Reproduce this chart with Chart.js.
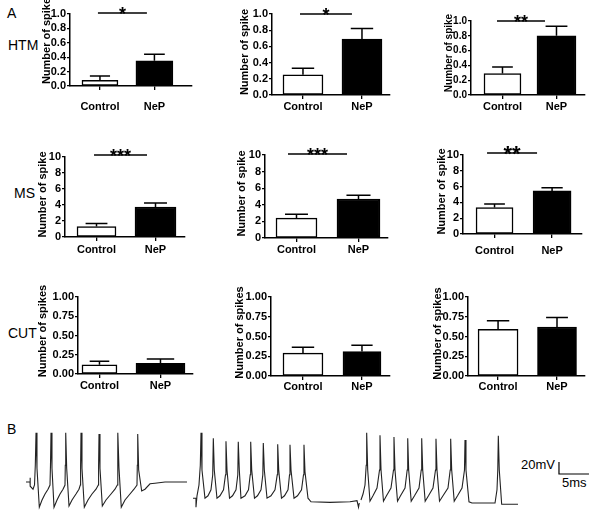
<!DOCTYPE html>
<html><head><meta charset="utf-8">
<script src="https://cdn.jsdelivr.net/npm/chart.js@4.4.1/dist/chart.umd.min.js"></script>
<style>
html,body{margin:0;padding:0;background:#fff;}
body{width:600px;height:519px;position:relative;overflow:hidden;font-family:"Liberation Sans",Arial,sans-serif;}
.box{position:absolute;}
.lbl{position:absolute;font-size:14px;color:#000;line-height:1;white-space:nowrap;}
.sb{position:absolute;font-size:13px;color:#000;line-height:1;white-space:nowrap;}
</style></head><body>
<div class="lbl" style="left:7px;top:6px">A</div>
<div class="lbl" style="left:7px;top:422px">B</div>
<div class="lbl" id="row0" style="left:8px;top:38px"></div>
<div class="lbl" id="row1" style="left:14px;top:186px"></div>
<div class="lbl" id="row2" style="left:8px;top:326px"></div>
<div class="sb" id="sbV" style="left:521px;top:458px"></div>
<div class="sb" id="sbH" style="left:562px;top:476px"></div>
<script>
// ---------- DATA ----------
const categories = ['Control', 'NeP'];
const rowNames = ['HTM', 'MS', 'CUT'];
const yTitles = ['Number of spike', 'Number of spike', 'Number of spikes'];

const htmMean = [[0.08, 0.35], [0.25, 0.69], [0.29, 0.80]];
const htmSem  = [[0.06, 0.09], [0.08, 0.13], [0.09, 0.13]];
const msMean  = [[1.3, 3.75], [2.4, 4.7], [3.35, 5.45]];
const msSem   = [[0.4, 0.5], [0.45, 0.45], [0.45, 0.4]];
const cutMean = [[0.12, 0.14], [0.29, 0.31], [0.59, 0.62]];
const cutSem  = [[0.045, 0.055], [0.075, 0.08], [0.11, 0.12]];

const htmSig = ['*', '*', '**'];
const msSig  = ['***', '***', '**'];
const cutSig = [null, null, null];

const htmTicks = [0, 0.2, 0.4, 0.6, 0.8, 1.0];
const msTicks  = [0, 2, 4, 6, 8, 10];
const cutTicks = [0, 0.25, 0.5, 0.75, 1.0];
const tickDecimals = [1, 0, 2];

// membrane potential traces: [time ms, voltage mV]
const trace1 = [[1.0,-20],[1.67,-20],[1.67,-13],[1.72,-27],[2.17,-32],[2.42,-25],[2.55,8],[2.67,62],[2.83,3],[3.22,-62],[3.67,-50],[4.17,-40],[4.67,-32],[5.0,-25],[5.08,8],[5.17,62],[5.33,3],[5.67,-62],[6.17,-50],[6.67,-40],[7.17,-32],[7.5,-25],[7.55,8],[7.62,62],[7.78,3],[8.17,-60],[8.67,-50],[9.33,-40],[9.83,-32],[10.05,-25],[10.1,8],[10.17,62],[10.33,3],[10.72,-62],[11.33,-50],[12.0,-40],[12.67,-32],[13.05,-25],[13.1,8],[13.17,60],[13.33,3],[13.72,-60],[14.33,-50],[15.17,-40],[15.83,-32],[16.22,-25],[16.27,8],[16.33,62],[16.5,3],[16.88,-62],[17.5,-50],[18.33,-40],[19.0,-32],[19.5,-25],[19.55,8],[19.62,60],[19.78,0],[20.28,-35],[20.83,-32],[21.67,-23],[22.5,-22],[24.17,-20],[27.83,-20]];
const trace2 = [[28.83,-47],[29.33,-47],[29.33,-62],[29.5,-43],[29.83,-25],[30.05,8],[30.17,62],[30.33,0],[30.83,-47],[31.33,-43],[31.83,-33],[32.12,-8],[32.22,53],[32.38,0],[32.83,-47],[33.33,-43],[33.92,-33],[34.25,-8],[34.33,48],[34.5,0],[34.92,-47],[35.42,-43],[36.0,-33],[36.3,-8],[36.38,47],[36.55,0],[36.83,-47],[37.5,-43],[38.08,-33],[38.37,-8],[38.45,47],[38.62,0],[39.08,-47],[39.58,-43],[40.17,-33],[40.47,-8],[40.55,45],[40.72,0],[41.17,-47],[41.83,-43],[42.5,-33],[42.87,-8],[42.95,43],[43.12,0],[43.58,-47],[44.08,-43],[44.67,-33],[44.92,-8],[45.0,42],[45.17,0],[45.67,-47],[46.25,-43],[46.92,-33],[47.25,-8],[47.33,42],[47.5,-3],[48.0,-47],[48.5,-53],[51.67,-54],[55.0,-53],[56.17,-51],[56.42,-62],[56.55,-55]];
const trace3 = [[56.83,-50],[57.17,-40],[57.5,-25],[57.7,8],[57.78,62],[57.95,0],[58.33,-52],[58.83,-43],[59.5,-30],[59.92,0],[60.0,58],[60.17,0],[60.58,-52],[61.08,-43],[61.83,-30],[62.25,0],[62.33,55],[62.5,0],[62.92,-52],[63.42,-43],[64.17,-30],[64.53,0],[64.62,53],[64.78,0],[65.2,-52],[65.75,-43],[66.5,-30],[66.87,0],[66.95,53],[67.12,0],[67.53,-52],[68.08,-43],[68.83,-30],[69.25,0],[69.33,52],[69.5,0],[69.92,-52],[70.5,-43],[71.33,-30],[71.7,0],[71.78,52],[71.95,0],[72.37,-52],[72.92,-43],[73.67,-30],[74.08,0],[74.17,50],[74.33,0],[74.83,-53],[75.33,-55],[79.17,-55],[79.5,-33],[79.63,0],[79.72,57],[79.88,0],[80.28,-57],[83.0,-57]];
const scaleBarMV = 20;
const scaleBarMS = 5;

// ---------- LAYOUT (pixels / styles) ----------
const layout = [
 {L:70, R:192,T:14, B:86,  xr:[0.45,2.69],  w:[36,37], tx:47, ty:41,    pad:10.5, sig:[0.963,1.862,1.014], fs:18, kfs:11, tfs:11},
 {L:272,R:390,T:14, B:95,  xr:[0.475,2.475],w:[40,40], tx:245,ty:52,    pad:1.5,  sig:[0.949,1.83,1.0],    fs:18, kfs:11, tfs:11},
 {L:471,R:585,T:21, B:95,  xr:[0.417,2.528],w:[37,39], tx:449.5,ty:53,  pad:1.5,  sig:[0.898,1.787,1.0],   fs:18, kfs:10, tfs:10},
 {L:65, R:185,T:157,B:237, xr:[0.466,2.5],  w:[39,41], tx:43, ty:194.5, pad:2,    sig:[0.958,1.856,10.25], fs:18, kfs:11, tfs:11},
 {L:265,R:388,T:155,B:238, xr:[0.492,2.476],w:[41,43], tx:242,ty:193.5, pad:1,    sig:[0.863,1.815,10.12], fs:18, kfs:11, tfs:11},
 {L:463,R:582,T:155,B:234, xr:[0.452,2.52], w:[37,38], tx:442,ty:191.5, pad:6.5,  sig:[0.87,1.739,10.25],  fs:22, kfs:11, tfs:11},
 {L:78, R:193,T:297,B:374, xr:[0.648,2.533],w:[35,49], tx:43, ty:331,   pad:1.5, kfs:11, tfs:11},
 {L:271,R:390,T:297,B:376, xr:[0.458,2.475],w:[40,38], tx:240,ty:332.5, pad:0,   kfs:11, tfs:11},
 {L:468,R:585,T:297,B:376, xr:[0.49,2.475], w:[40,39], tx:438,ty:333.5, pad:0,   kfs:11, tfs:11}
];

const FONT = '"Liberation Sans", Arial, sans-serif';
Chart.defaults.font.family = FONT;
Chart.defaults.color = '#000';

document.getElementById('row0').textContent = rowNames[0];
document.getElementById('row1').textContent = rowNames[1];
document.getElementById('row2').textContent = rowNames[2];
document.getElementById('sbV').textContent = scaleBarMV + 'mV';
document.getElementById('sbH').textContent = scaleBarMS + 'ms';

const meanRows = [htmMean, msMean, cutMean];
const semRows = [htmSem, msSem, cutSem];
const sigRows = [htmSig, msSig, cutSig];
const tickRows = [htmTicks, msTicks, cutTicks];
const yMaxRows = [1, 10, 1];

const PAD_L = 60, PAD_T = 25, PAD_R = 15, PAD_B = 40, YW = 35;

function makeCanvas(left, top, w, h) {
  const div = document.createElement('div');
  div.className = 'box';
  div.style.left = left + 'px'; div.style.top = top + 'px';
  div.style.width = w + 'px'; div.style.height = h + 'px';
  const cv = document.createElement('canvas');
  cv.width = w; cv.height = h;
  cv.style.width = w + 'px'; cv.style.height = h + 'px';
  div.appendChild(cv);
  document.body.appendChild(div);
  return cv;
}

function makeBar(i) {
  const r = Math.floor(i / 3), c = i % 3;
  const lay = layout[i];
  const means = meanRows[r][c], sems = semRows[r][c], sig = sigRows[r][c];
  const ticksArr = tickRows[r], dec = tickDecimals[r];
  const W = (lay.R - lay.L) + PAD_L + PAD_R, H = (lay.B - lay.T) + PAD_T + PAD_B;
  const ox = lay.L - PAD_L, oy = lay.T - PAD_T;
  const cv = makeCanvas(ox, oy, W, H);

  const annot = {
    id: 'annot' + i,
    afterDatasetsDraw(chart) {
      const ctx = chart.ctx, ys = chart.scales.y;
      ctx.save();
      ctx.strokeStyle = '#000'; ctx.lineWidth = 1.5;
      chart.data.datasets.forEach((ds, k) => {
        const bar = chart.getDatasetMeta(k).data[0];
        const yb = ys.getPixelForValue(means[k]);
        const yt = ys.getPixelForValue(means[k] + sems[k]);
        const hw = bar.width * 0.28;
        ctx.beginPath();
        ctx.moveTo(bar.x, yb); ctx.lineTo(bar.x, yt);
        ctx.moveTo(bar.x - hw, yt); ctx.lineTo(bar.x + hw, yt);
        ctx.stroke();
      });
      ctx.restore();
    },
    afterDraw(chart) {
      const ctx = chart.ctx, xs = chart.scales.x, ys = chart.scales.y;
      ctx.save();
      ctx.fillStyle = '#000';
      ctx.translate(lay.tx - ox, lay.ty - oy);
      ctx.rotate(-Math.PI / 2);
      ctx.font = 'bold ' + lay.tfs + 'px ' + FONT;
      ctx.textAlign = 'center'; ctx.textBaseline = 'middle';
      ctx.fillText(yTitles[r], 0, 0);
      ctx.restore();
      if (sig && lay.sig) {
        const x1 = xs.getPixelForValue(lay.sig[0]);
        const x2 = xs.getPixelForValue(lay.sig[1]);
        const ly = ys.getPixelForValue(lay.sig[2]);
        ctx.save();
        ctx.strokeStyle = '#000'; ctx.lineWidth = 1.5;
        ctx.beginPath(); ctx.moveTo(x1, ly); ctx.lineTo(x2, ly); ctx.stroke();
        ctx.fillStyle = '#000';
        ctx.font = 'bold ' + lay.fs + 'px ' + FONT;
        ctx.textAlign = 'center'; ctx.textBaseline = 'alphabetic';
        ctx.fillText(sig, (x1 + x2) / 2, ly + 0.42 * lay.fs - 1);
        ctx.restore();
      }
    }
  };

  new Chart(cv, {
    type: 'bar',
    data: {
      datasets: [
        {label: categories[0], data: [{x: 1, y: means[0]}], backgroundColor: '#fff', borderColor: '#000', borderWidth: 1.5, borderSkipped: false, barThickness: lay.w[0], stack: 's'},
        {label: categories[1], data: [{x: 2, y: means[1]}], backgroundColor: '#000', borderColor: '#000', borderWidth: 1.5, borderSkipped: false, barThickness: lay.w[1], stack: 's'}
      ]
    },
    options: {
      responsive: false, animation: false, devicePixelRatio: 1,
      layout: {padding: {left: PAD_L - YW, top: PAD_T, right: PAD_R, bottom: 0}},
      plugins: {legend: {display: false}, tooltip: {enabled: false}},
      scales: {
        x: {
          type: 'linear', min: lay.xr[0], max: lay.xr[1], offset: false, bounds: 'data',
          afterBuildTicks: s => { s.ticks = [{value: 1}, {value: 2}]; },
          afterFit: s => { s.height = PAD_B; },
          grid: {display: true, offset: false, drawOnChartArea: false, drawTicks: true, tickLength: 4, color: '#000', lineWidth: 1.3},
          border: {display: true, color: '#000', width: 1.5},
          ticks: {autoSkip: false, maxRotation: 0, padding: lay.pad, color: '#000',
                  font: {family: FONT, size: 11, weight: 'bold'},
                  callback: v => categories[Math.round(v) - 1]}
        },
        y: {
          min: 0, max: yMaxRows[r], stacked: false,
          afterBuildTicks: s => { s.ticks = ticksArr.map(v => ({value: v})); },
          afterFit: s => { s.width = YW; },
          grid: {display: true, drawOnChartArea: false, drawTicks: true, tickLength: 3, color: '#000', lineWidth: 1.3},
          border: {display: true, color: '#000', width: 1.5},
          ticks: {autoSkip: false, padding: 1, color: '#000', font: {family: FONT, size: lay.kfs, weight: 'bold'},
                  callback: v => Number(v).toFixed(dec)}
        }
      }
    },
    plugins: [annot]
  });
}

for (let i = 0; i < 9; i++) makeBar(i);

// ---------- traces ----------
const toXY = arr => arr.map(p => ({x: p[0], y: p[1]}));
const sbOrigin = [89.83, -6.7];
const scaleBar = [[sbOrigin[0], sbOrigin[1] + scaleBarMV], sbOrigin, [sbOrigin[0] + scaleBarMS, sbOrigin[1]]];
const tcv = makeCanvas(20, 425, 580, 90);
new Chart(tcv, {
  type: 'line',
  data: {
    datasets: [trace1, trace2, trace3, scaleBar].map((t, k) => ({
      data: toXY(t), borderColor: k === 3 ? '#000' : '#222', borderWidth: k === 3 ? 1.2 : 1.1,
      pointRadius: 0, tension: 0, fill: false
    }))
  },
  options: {
    responsive: false, animation: false, devicePixelRatio: 1,
    layout: {padding: 0},
    plugins: {legend: {display: false}, tooltip: {enabled: false}},
    scales: {
      x: {type: 'linear', display: false, min: 0, max: 96.667},
      y: {type: 'linear', display: false, min: -75, max: 75}
    }
  }
});
</script>
</body></html>
